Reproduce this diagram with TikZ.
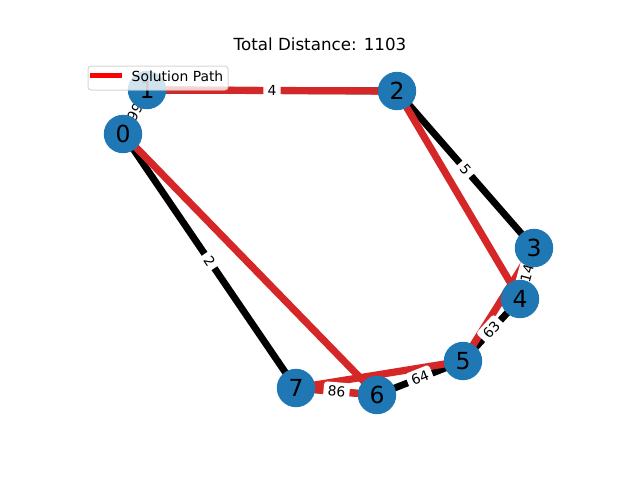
\documentclass[tikz,border=0pt]{standalone}
\usepackage{fontspec}
\setmainfont{DejaVu Sans}
\definecolor{nxblue}{HTML}{1F77B4}
\definecolor{tabred}{HTML}{D62728}
\definecolor{legedge}{HTML}{CCCCCC}
\begin{document}
\begin{tikzpicture}[x=1pt,y=-1pt,
  graphedge/.style={draw=black,line width=6.9pt},
  pathedge/.style={draw=tabred,line width=7.2pt},
  vertex/.style={circle,fill=nxblue,minimum size=38.4pt,inner sep=0pt,
    font=\fontsize{23.5}{23.5}\selectfont,text=black},
  lbl/.style={fill=white,rounded corners=3pt,inner xsep=4.2pt,inner ysep=4pt,
    font=\fontsize{13.9}{14}\selectfont,text=black},
  legbox/.style={fill=white,fill opacity=0.8,draw=legedge,draw opacity=0.8,
    line width=1pt,rounded corners=3pt}]
\useasboundingbox (0,0) rectangle (640,480);
% vertex positions
\coordinate (c0) at (123,134);
\coordinate (c1) at (147,90);
\coordinate (c2) at (397,91);
\coordinate (c3) at (534,248);
\coordinate (c4) at (520,299);
\coordinate (c5) at (463,361);
\coordinate (c6) at (377,395);
\coordinate (c7) at (296,388);
% graph edges
\draw[graphedge] (c0) -- (c1);
\draw[graphedge] (c1) -- (c2);
\draw[graphedge] (c2) -- (c3);
\draw[graphedge] (c3) -- (c4);
\draw[graphedge] (c4) -- (c5);
\draw[graphedge] (c5) -- (c6);
\draw[graphedge] (c6) -- (c7);
\draw[graphedge] (c0) -- (c7);
% solution path
\draw[pathedge] (c0) -- (c1);
\draw[pathedge] (c1) -- (c2);
\draw[pathedge] (c2) -- (c4);
\draw[pathedge] (c4) -- (c3);
\draw[pathedge] (c3) -- (c5);
\draw[pathedge] (c5) -- (c7);
\draw[pathedge] (c7) -- (c6);
\draw[pathedge] (c6) -- (c0);
% edge labels
\path (c0) -- (c1) node[lbl,midway,sloped] (l01) {99};
\path (c1) -- (c2) node[lbl,midway,sloped] (l12) {4};
\path (c2) -- (c3) node[lbl,midway,sloped] (l23) {5};
\path (c3) -- (c4) node[lbl,midway,sloped] (l34) {14};
\path (c4) -- (c5) node[lbl,midway,sloped] (l45) {63};
\path (c5) -- (c6) node[lbl,midway,sloped] (l56) {64};
\path (c6) -- (c7) node[lbl,midway,sloped] (l67) {86};
\path (c0) -- (c7) node[lbl,midway,sloped] (l07) {2};
% vertices
\node[vertex] (n0) at (c0) {0};
\node[vertex] (n1) at (c1) {1};
\node[vertex] (n2) at (c2) {2};
\node[vertex] (n3) at (c3) {3};
\node[vertex] (n4) at (c4) {4};
\node[vertex] (n5) at (c5) {5};
\node[vertex] (n6) at (c6) {6};
\node[vertex] (n7) at (c7) {7};
% legend
\path[legbox] (88,66) rectangle (228,90);
\coordinate (lga) at (90,75.5);
\coordinate (lgb) at (122,75.5);
\draw[draw=red,line width=5.6pt] (lga) -- (lgb);
\node[anchor=base west,inner sep=0pt,font=\fontsize{13.9}{14}\selectfont] (legtxt) at (131.5,81) {Solution Path};
% title
\node[anchor=base,inner sep=0pt,font=\fontsize{16.7}{17}\selectfont] (title) at (320,50) {Total Distance: 1103};
\end{tikzpicture}
\end{document}
